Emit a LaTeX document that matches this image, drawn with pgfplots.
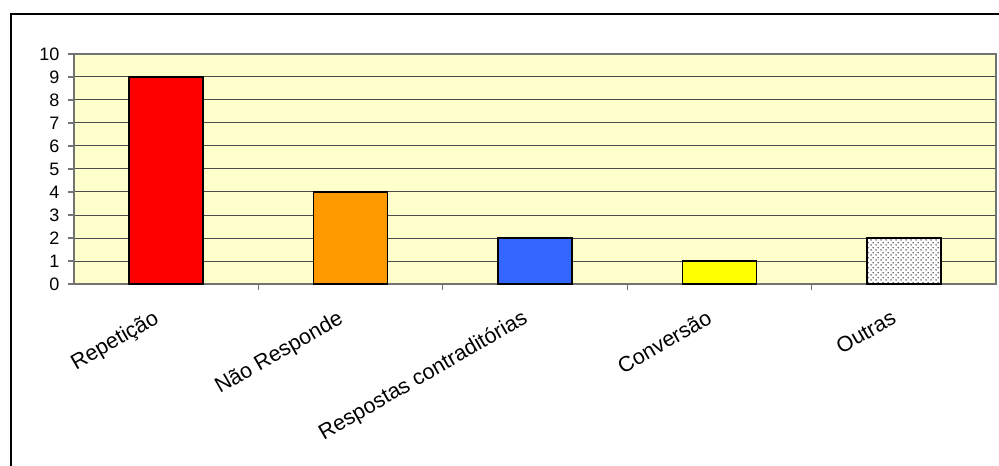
\documentclass[border=0pt]{standalone}
\usepackage{pgfplots}
\pgfplotsset{compat=1.18}
\usepackage{fontspec}
\setmainfont{Liberation Sans}
\usetikzlibrary{patterns}
\definecolor{plotbg}{RGB}{255,255,204}
\definecolor{barorange}{RGB}{255,153,0}
\definecolor{barblue}{RGB}{51,102,255}
\definecolor{baryellow}{RGB}{255,255,0}
\newcommand{\tickfont}{\fontsize{18}{21}\selectfont}
\newcommand{\lblfont}{\fontsize{21.5}{24}\selectfont}
\pgfdeclarepatternformonly{bigdots}{\pgfpointorigin}{\pgfpoint{5pt}{5pt}}{\pgfpoint{5pt}{5pt}}{
  \pgfpathcircle{\pgfpoint{1.25pt}{1.25pt}}{0.9pt}
  \pgfpathcircle{\pgfpoint{3.75pt}{3.75pt}}{0.9pt}
  \pgfusepath{fill}
}

\begin{document}
\begin{tikzpicture}
\useasboundingbox (0,0) rectangle (999pt,466pt);
\draw[line width=2pt] (11pt,-20pt) rectangle (1030pt,452pt);
\begin{axis}[
  at={(74pt,182pt)}, anchor=south west,
  scale only axis, width=922pt, height=230pt,
  xmin=-0.5, xmax=4.5, ymin=0, ymax=10,
  ytick={0,...,10},
  xtick={0.5,1.5,2.5,3.5}, xticklabels={},
  xtick pos=lower, ytick pos=left,
  tick align=outside, major tick length=6pt,
  tick style={black!55, line width=1.2pt},
  axis line style={black!55, line width=1.2pt},
  ymajorgrids, major grid style={black!70, line width=1pt},
  axis background/.style={fill=plotbg},
  tick label style={font=\tickfont},
  yticklabel style={xshift=-5pt},
  /pgf/number format/assume math mode=true,
  bar shift=0pt, bar width=74pt,
  clip=false,
]
\addplot[ybar, fill=red, draw=black, line width=1.5pt] coordinates {(0,9)};
\addplot[ybar, fill=barorange, draw=black, line width=1.5pt] coordinates {(1,4)};
\addplot[ybar, fill=barblue, draw=black, line width=1.5pt] coordinates {(2,2)};
\addplot[ybar, fill=baryellow, draw=black, line width=1.5pt] coordinates {(3,1)};
\addplot[ybar, fill=white, postaction={pattern=bigdots, pattern color=black!75}, draw=black, line width=1.5pt] coordinates {(4,2)};

\node[rotate=30, anchor=base east, font=\lblfont, inner sep=0pt] at ([yshift=-38pt]axis cs:-0.033,0) {Repetição};
\node[rotate=30, anchor=base east, font=\lblfont, inner sep=0pt] at ([yshift=-38pt]axis cs:0.967,0) {Não Responde};
\node[rotate=30, anchor=base east, font=\lblfont, inner sep=0pt] at ([yshift=-38pt]axis cs:1.967,0) {Respostas contraditórias};
\node[rotate=30, anchor=base east, font=\lblfont, inner sep=0pt] at ([yshift=-38pt]axis cs:2.967,0) {Conversão};
\node[rotate=30, anchor=base east, font=\lblfont, inner sep=0pt] at ([yshift=-38pt]axis cs:3.967,0) {Outras};
\end{axis}
\end{tikzpicture}
\end{document}
